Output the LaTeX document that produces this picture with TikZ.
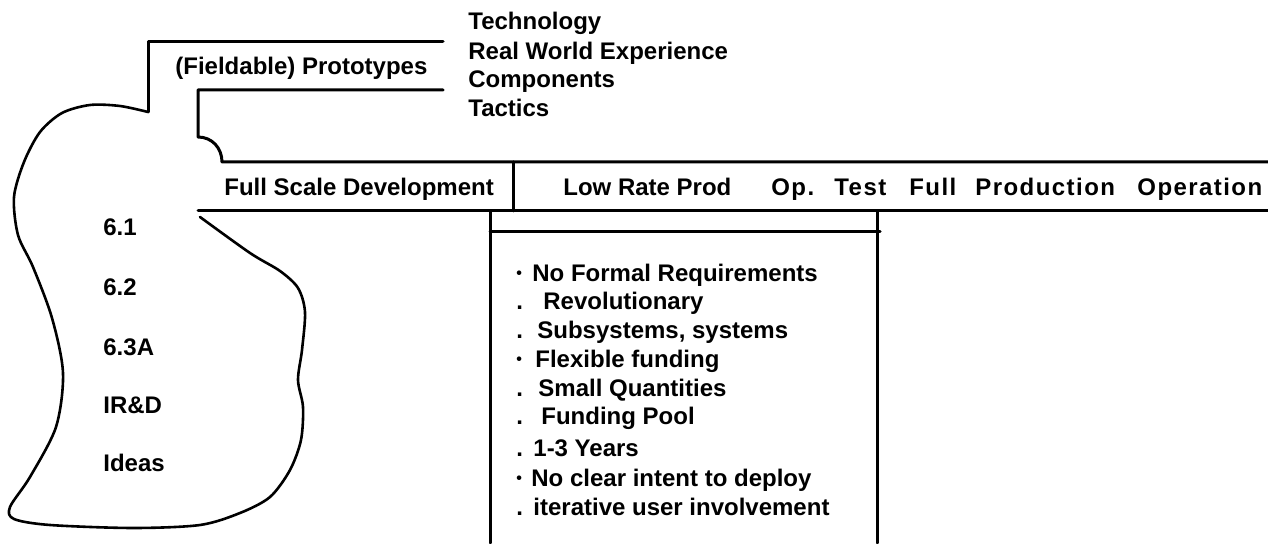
\documentclass[tikz,border=0pt]{standalone}
\usepackage{fontspec}
\setmainfont{Liberation Sans}
\newfontfamily\spaced[LetterSpace=6]{Liberation Sans}
\usepackage{tikz}

\newcommand{\bul}{\raisebox{1.5pt}{\fontsize{8}{8}\selectfont\textbullet}}

\begin{document}
\begin{tikzpicture}[x=0.5pt,y=-0.5pt,line cap=round,line join=round,
    every node/.style={inner sep=0pt,anchor=base west,font=\bfseries\fontsize{12}{14}\selectfont},
    rule/.style={line width=1.5pt,black},
    blob/.style={line width=1.3pt,black}]
        \useasboundingbox (0,0) rectangle (1268,544);
        % prototype bracket
        \draw [rule] (443,42)-- (148,42)-- (148,112);
        \draw [rule] (443,90)-- (198,90)-- (198,137) .. controls (212,137) and (222,148) .. (222,162)-- (1268,162);
        \draw [rule] (198,211)-- (1268,211);
        \draw [rule] (513,162)-- (513,211);
        % box below the band
        \draw [rule] (490,211)-- (490,543);
        \draw [rule] (877,211)-- (877,543);
        \draw [rule] (490,232)-- (880,232);
        % funding blob
        \draw [blob] plot [smooth] coordinates {(148,112) (120,106) (90,105) (62,113) (40,132) (24,162) (14,197)
            (18,235) (33,267) (52,318) (63,373) (56,427) (30,477) (10,507) (14,519) (50,525) (133,528)
            (200,525) (240,513) (270,497) (290,470) (301,440) (303,407) (298,380) (302,350) (305,312)
            (298,288) (280,271) (250,253) (200,217)};
        % texts
        \node (proto) at (175,75) {(Fieldable) Prototypes};
        \foreach \y/\txt [count=\i] in {30/Technology, 60/Real World Experience, 88/Components, 117/Tactics}
            \node (gain\i) at (468,\y) {\txt};
        \node (fsd) at (224,196) {Full Scale Development};
        \node (lrp) at (563,196) {Low Rate Prod};
        \foreach \x/\txt [count=\i] in {771/Op., 834/Test, 909/Full, 975/Production, 1137/Operation}
            \node [font=\spaced\bfseries\fontsize{12}{14}\selectfont] (phase\i) at (\x,196) {\txt};
        \foreach \y/\txt [count=\i] in {236/6.1, 296/6.2, 356/6.3A, 414/IR\&D, 472/Ideas}
            \node (fund\i) at (103,\y) {\txt};
        \foreach \y/\b/\x/\txt [count=\i] in {282/\bul/532/No Formal Requirements, 310/./543/Revolutionary,
            339/./537/{Subsystems, systems}, 368/\bul/535/Flexible funding, 397/./538/Small Quantities,
            425/./541/Funding Pool, 457/./533/1-3 Years, 487/\bul/531/No clear intent to deploy,
            516/./533/iterative user involvement}
        {
            \node (mark\i) at (516,\y) {\b};
            \node (item\i) at (\x,\y) {\txt};
        }
        
        \end{tikzpicture}
\end{document}
